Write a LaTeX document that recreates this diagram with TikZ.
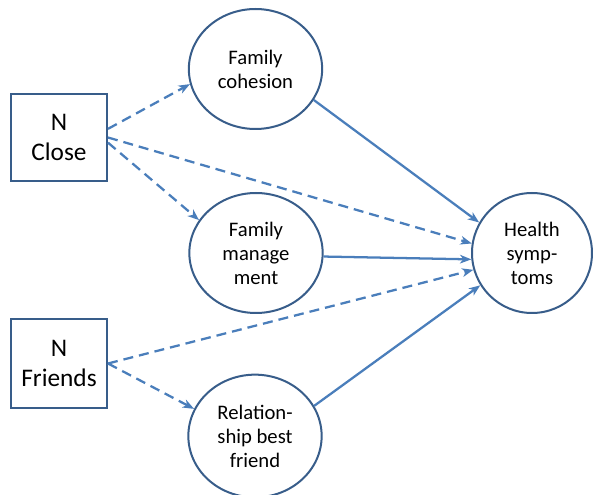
\documentclass[tikz,border=0pt]{standalone}
\usepackage{fontspec}
\setmainfont{Carlito}
\usepackage{tikz}
\usetikzlibrary{shapes.geometric, arrows.meta, calc}
\definecolor{edgeblue}{HTML}{4A7EBB}
\definecolor{rimblue}{HTML}{385D8A}

\begin{document}
\begin{tikzpicture}[x=0.75pt,y=-0.75pt]
\tikzstyle{count} = [rectangle, minimum width=72pt, minimum height=65pt, align=center, draw=rimblue, line width=1.5pt, fill=white, font=\fontsize{19}{22.5}\selectfont]
\tikzstyle{factor} = [ellipse, minimum width=100pt, minimum height=90pt, inner sep=0pt, align=center, draw=rimblue, line width=1.5pt, fill=white, font=\fontsize{15.5}{18}\selectfont]
\tikzstyle{arrow} = [edgeblue, line width=1.7pt, -{Stealth[length=8.5pt, width=6.5pt, inset=2.5pt]}]
\tikzstyle{darrow} = [arrow, dash pattern=on 7.5pt off 4.5pt]

\useasboundingbox (0,0) rectangle (593,495);

% Predictor Nodes
\node (close) [count] at (59,137.5) {N\\Close};
\node (friends) [count, minimum height=67pt] at (59,363.5) {N\\Friends};

% Mediator Nodes
\node (cohesion) [factor] at (255.5,69) {Family\\cohesion};
\node (manage) [factor] at (256,253) {Family\\manage\\ment};
\node (bestfriend) [factor, minimum height=92pt] at (255,436) {Relation-\\ship best\\friend};

% Outcome Node
\node (health) [factor, minimum width=90pt] at (532,253) {Health\\symp-\\toms};

% Dashed Paths (N Close)
\draw [darrow] (close.10) -- (cohesion.193);
\draw [darrow] (close.-6) -- (manage.150);
\draw [darrow] (close.east) -- (health.171);

% Dashed Paths (N Friends)
\draw [darrow] (friends.east) -- (health.196);
\draw [darrow] (friends.east) -- (bestfriend.156);

% Solid Paths to Health
\draw [arrow] (cohesion.-28) -- (health.150);
\draw [arrow] (manage.-3) -- (health.186);
\draw [arrow] (bestfriend.27) -- (health.212);

\end{tikzpicture}
\end{document}
